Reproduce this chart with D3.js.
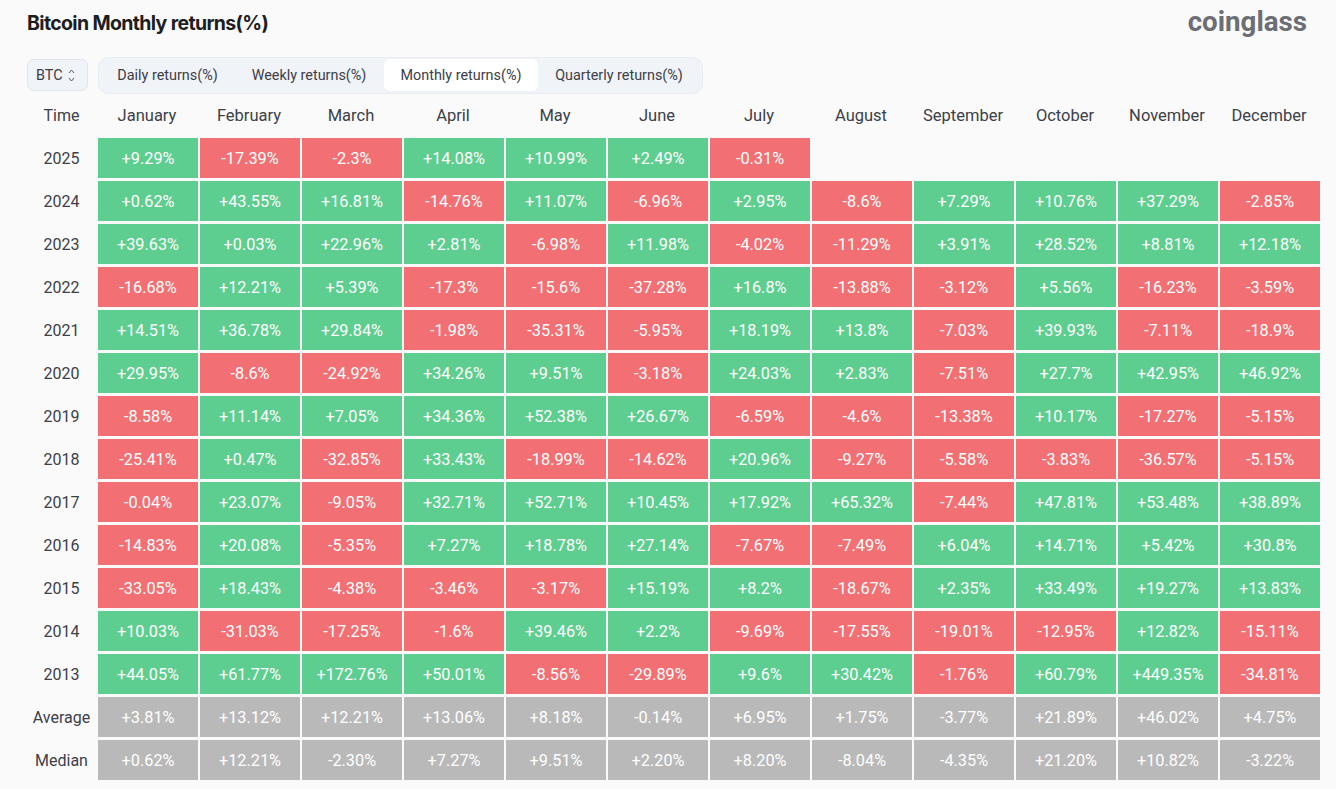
<!DOCTYPE html>
<html>
<head>
<meta charset="utf-8">
<script src="https://cdn.jsdelivr.net/npm/d3@7"></script>
<style>
  html, body { margin: 0; padding: 0; background: #fafafa; overflow: hidden; }
  svg { display: block; }
  text { font-family: "Roboto", sans-serif; }
</style>
</head>
<body>
<div id="chart"></div>
<script>
const months = ["January", "February", "March", "April", "May", "June", "July", "August", "September", "October", "November", "December"];
const rowNames = ["2025", "2024", "2023", "2022", "2021", "2020", "2019", "2018", "2017", "2016", "2015", "2014", "2013", "Average", "Median"];
const tabs = ["Daily returns(%)", "Weekly returns(%)", "Monthly returns(%)", "Quarterly returns(%)"];

const y2025 = [9.29, -17.39, -2.3, 14.08, 10.99, 2.49, -0.31];
const y2024 = [0.62, 43.55, 16.81, -14.76, 11.07, -6.96, 2.95, -8.6, 7.29, 10.76, 37.29, -2.85];
const y2023 = [39.63, 0.03, 22.96, 2.81, -6.98, 11.98, -4.02, -11.29, 3.91, 28.52, 8.81, 12.18];
const y2022 = [-16.68, 12.21, 5.39, -17.3, -15.6, -37.28, 16.8, -13.88, -3.12, 5.56, -16.23, -3.59];
const y2021 = [14.51, 36.78, 29.84, -1.98, -35.31, -5.95, 18.19, 13.8, -7.03, 39.93, -7.11, -18.9];
const y2020 = [29.95, -8.6, -24.92, 34.26, 9.51, -3.18, 24.03, 2.83, -7.51, 27.7, 42.95, 46.92];
const y2019 = [-8.58, 11.14, 7.05, 34.36, 52.38, 26.67, -6.59, -4.6, -13.38, 10.17, -17.27, -5.15];
const y2018 = [-25.41, 0.47, -32.85, 33.43, -18.99, -14.62, 20.96, -9.27, -5.58, -3.83, -36.57, -5.15];
const y2017 = [-0.04, 23.07, -9.05, 32.71, 52.71, 10.45, 17.92, 65.32, -7.44, 47.81, 53.48, 38.89];
const y2016 = [-14.83, 20.08, -5.35, 7.27, 18.78, 27.14, -7.67, -7.49, 6.04, 14.71, 5.42, 30.8];
const y2015 = [-33.05, 18.43, -4.38, -3.46, -3.17, 15.19, 8.2, -18.67, 2.35, 33.49, 19.27, 13.83];
const y2014 = [10.03, -31.03, -17.25, -1.6, 39.46, 2.2, -9.69, -17.55, -19.01, -12.95, 12.82, -15.11];
const y2013 = [44.05, 61.77, 172.76, 50.01, -8.56, -29.89, 9.6, 30.42, -1.76, 60.79, 449.35, -34.81];
const average = [3.81, 13.12, 12.21, 13.06, 8.18, -0.14, 6.95, 1.75, -3.77, 21.89, 46.02, 4.75];
const median = [0.62, 12.21, -2.3, 7.27, 9.51, 2.2, 8.2, -8.04, -4.35, 21.2, 10.82, -3.22];
const rowValues = [y2025, y2024, y2023, y2022, y2021, y2020, y2019, y2018, y2017, y2016, y2015, y2014, y2013, average, median];

const W = 1336, H = 789;
const svg = d3.select("#chart").append("svg").attr("width", W).attr("height", H);

const x = d3.scaleBand().domain(months).range([97, 1321]).paddingInner(2 / 102).paddingOuter(1 / 102);
const y = d3.scaleBand().domain(rowNames).range([136.5, 781.5]).paddingInner(3 / 43).paddingOuter(1.5 / 43);

// plain hyphen for negatives, like the site
const locale = d3.formatLocale({ decimal: ".", thousands: ",", grouping: [3], currency: ["$", ""], minus: "-" });
const trimmed = locale.format("+.2~f");
const fixed = locale.format("+.2f");

svg.append("text").attr("x", 27).attr("y", 30)
  .style("font-family", "Inter").style("font-size", "19.5px").style("font-weight", 700)
  .style("letter-spacing", "-0.65px").attr("fill", "#1c1e22").text("Bitcoin Monthly returns(%)");

svg.append("text").attr("x", 1307).attr("y", 31).attr("text-anchor", "end")
  .style("font-size", "27.7px").style("font-weight", 700)
  .attr("fill", "#6b6e74").text("coinglass");

// BTC select
svg.append("rect").attr("x", 27.5).attr("y", 59.5).attr("width", 60).attr("height", 31).attr("rx", 6)
  .attr("fill", "#f0f3f8").attr("stroke", "#e1e4ea");
svg.append("text").attr("x", 36).attr("y", 80).attr("fill", "#3c4048")
  .style("font-size", "14.4px").text("BTC");
svg.append("path").attr("d", "M69 73 L71.5 70 L74 73 M69 78 L71.5 81 L74 78")
  .attr("fill", "none").attr("stroke", "#555a62").attr("stroke-width", 1);

// tab strip
svg.append("rect").attr("x", 98.5).attr("y", 57.5).attr("width", 604).attr("height", 36).attr("rx", 10)
  .attr("fill", "#f0f3f8").attr("stroke", "#e9ecf1");
svg.append("rect").attr("x", 384).attr("y", 59).attr("width", 154).attr("height", 32).attr("rx", 6).attr("fill", "#fff");
const tabX = d3.scaleOrdinal().domain(tabs).range([167.5, 309, 461, 619]);
svg.selectAll(".tab").data(tabs).join("text").attr("class", "tab")
  .attr("x", d => tabX(d)).attr("y", 80).attr("text-anchor", "middle")
  .attr("fill", "#3c4048").style("font-size", "14.4px").text(d => d);

// column + row headers
svg.append("text").attr("x", 61.5).attr("y", 120.5).attr("text-anchor", "middle")
  .attr("fill", "#3c4048").style("font-size", "16px").text("Time");
svg.selectAll(".month").data(months).join("text").attr("class", "month")
  .attr("x", d => x(d) + x.bandwidth() / 2 - 1).attr("y", 120.5).attr("text-anchor", "middle")
  .attr("fill", "#3c4048").style("font-size", "16.5px").text(d => d);
svg.selectAll(".rowname").data(rowNames).join("text").attr("class", "rowname")
  .attr("x", 61.5).attr("y", d => y(d) + y.bandwidth() / 2).attr("dy", "0.36em").attr("text-anchor", "middle")
  .attr("fill", "#3c4048").style("font-size", "16px").text(d => d);

const cells = rowValues.flatMap((vals, i) => vals.map((v, j) => ({ row: rowNames[i], month: months[j], v })));
const fillOf = d => (d.row === "Average" || d.row === "Median") ? "#b9b9b9" : d.v >= 0 ? "#5dce8f" : "#f27073";
const labelOf = d => (d.row === "Median" ? fixed(d.v) : trimmed(d.v)) + "%";

const cell = svg.selectAll(".cell").data(cells).join("g").attr("class", "cell");
cell.append("rect")
  .attr("x", d => x(d.month)).attr("y", d => y(d.row))
  .attr("width", x.bandwidth()).attr("height", y.bandwidth())
  .attr("fill", fillOf);
cell.append("text")
  .attr("x", d => x(d.month) + x.bandwidth() / 2).attr("y", d => y(d.row) + y.bandwidth() / 2)
  .attr("dy", "0.36em").attr("text-anchor", "middle").attr("fill", "#fff")
  .style("font-size", "16.3px").text(labelOf);
</script>
</body>
</html>
